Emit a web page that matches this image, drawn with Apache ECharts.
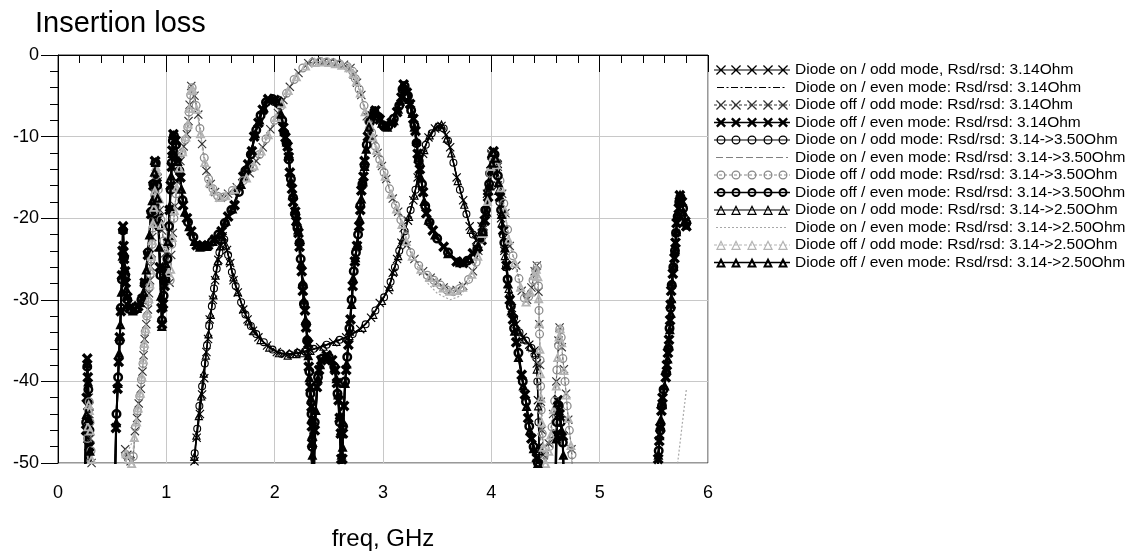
<!DOCTYPE html>
<html><head><meta charset="utf-8">
<script src="https://cdn.jsdelivr.net/npm/echarts@6/dist/echarts.min.js"></script>
<style>html,body{margin:0;padding:0;background:#fff}#c{width:1132px;height:556px}</style>
</head><body><div id="c"></div>
<script>
// ---------- DATA ----------
const xTicks = [0,1,2,3,4,5,6];
const yTicks = [0,-10,-20,-30,-40,-50];
const names = [
 'Diode on / odd mode, Rsd/rsd: 3.14Ohm',
 'Diode on / even mode: Rsd/rsd: 3.14Ohm',
 'Diode off / odd mode: Rsd/rsd: 3.14Ohm',
 'Diode off / even mode: Rsd/rsd: 3.14Ohm',
 'Diode on / odd mode: Rsd/rsd: 3.14->3.50Ohm',
 'Diode on / even mode: Rsd/rsd: 3.14->3.50Ohm',
 'Diode off / odd mode: Rsd/rsd: 3.14->3.50Ohm',
 'Diode off / even mode: Rsd/rsd: 3.14->3.50Ohm',
 'Diode on / odd mode: Rsd/rsd: 3.14->2.50Ohm',
 'Diode on / even mode: Rsd/rsd: 3.14->2.50Ohm',
 'Diode off / odd mode: Rsd/rsd: 3.14->2.50Ohm',
 'Diode off / even mode: Rsd/rsd: 3.14->2.50Ohm'
];

const onOdd314 = [
[0.25,-56],[0.27,-47],[0.28,-44],[0.29,-47],[0.3,-56],
[1.24,-56],[1.26,-49.8],[1.28,-46.9],[1.31,-44],[1.33,-41.6],[1.35,-39.6],[1.37,-36.4],[1.385,-34.8],[1.4,-32.4],[1.43,-30],[1.45,-27.6],[1.48,-25.1],[1.5,-23.4],[1.52,-22.2],[1.56,-23.9],[1.59,-25.5],[1.62,-27.6],[1.66,-29.1],[1.71,-31.2],[1.75,-32.4],[1.8,-33.8],[1.85,-34.6],[1.93,-35.6],[2.02,-36.4],[2.1,-36.6],[2.17,-36.6],[2.24,-36.4],[2.31,-36.2],[2.42,-35.8],[2.54,-35.2],[2.66,-34.6],[2.79,-33.6],[2.89,-32.2],[2.97,-30.4],[3.05,-28.8],[3.09,-26.7],[3.13,-25],[3.17,-23],[3.23,-20.3],[3.28,-17.8],[3.32,-15],[3.37,-12.1],[3.42,-10.1],[3.48,-9],[3.54,-8.7],[3.58,-9.8],[3.62,-11.3],[3.68,-15],[3.74,-17.8],[3.8,-21],[3.86,-22.7],[3.91,-21],[3.96,-17],[4.0,-12.1],[4.03,-12.8],[4.06,-16],[4.09,-20],[4.12,-24],[4.15,-28],[4.19,-31],[4.23,-33],[4.29,-34.6],[4.35,-35.5],[4.4,-36.2],[4.42,-37.8],[4.43,-42.3],[4.44,-48],[4.45,-56]
];
const onOdd350 = [
[1.24,-56],[1.262,-48.8],[1.285,-45.8],[1.305,-43],[1.33,-40.6],[1.355,-37.8],[1.375,-35.6],[1.395,-33.2],[1.42,-30.8],[1.44,-28.6],[1.465,-26.2],[1.49,-24.2],[1.51,-22.7],[1.535,-22.6],[1.57,-24.5],[1.605,-26.6],[1.64,-28.3],[1.69,-30.3],[1.73,-31.8],[1.78,-33.2],[1.83,-34.2],[1.9,-35.2],[1.98,-36.1],[2.06,-36.6],[2.14,-36.7],[2.21,-36.5],[2.28,-36.3],[2.36,-36],[2.48,-35.5],[2.6,-34.9],[2.72,-34.2],[2.84,-33],[2.93,-31.3],[3.01,-29.7],[3.07,-27.8],[3.11,-26],[3.15,-24],[3.2,-21.6],[3.255,-19],[3.3,-16.5],[3.345,-13.6],[3.395,-11],[3.45,-9.6],[3.51,-8.8],[3.56,-9],[3.6,-10.5],[3.65,-13.2],[3.71,-16.5],[3.77,-19.5],[3.83,-22],[3.885,-22.2],[3.935,-19],[3.98,-14.5],[4.005,-12.2],[4.045,-14],[4.075,-18],[4.105,-22],[4.135,-26],[4.17,-29.6],[4.21,-32.2],[4.26,-34],[4.32,-35],[4.37,-35.9],[4.41,-36.8],[4.425,-40],[4.435,-45],[4.445,-50],[4.455,-56]
];
const onOdd250 = [
[1.24,-56],[1.258,-49.2],[1.278,-46.6],[1.3,-44.2],[1.322,-41.8],[1.345,-39],[1.365,-36.8],[1.39,-34.2],[1.41,-31.8],[1.435,-29.4],[1.455,-27],[1.475,-25.2],[1.5,-23.4],[1.52,-22.3],[1.55,-23.3],[1.585,-25.2],[1.62,-27.2],[1.66,-29],[1.71,-31.1],[1.76,-32.6],[1.81,-33.8],[1.87,-34.9],[1.95,-35.8],[2.04,-36.5],[2.12,-36.8],[2.2,-36.6],[2.26,-36.5],[2.33,-36.2],[2.45,-35.7],[2.57,-35.1],[2.69,-34.4],[2.81,-33.4],[2.91,-31.8],[2.99,-30.1],[3.06,-28.4],[3.1,-26.5],[3.14,-24.6],[3.18,-22.6],[3.24,-19.8],[3.29,-17.2],[3.33,-14.5],[3.38,-11.6],[3.43,-9.8],[3.49,-8.8],[3.54,-8.5],[3.59,-10.2],[3.63,-12],[3.69,-15.4],[3.75,-18.3],[3.81,-21.4],[3.865,-22.9],[3.92,-20.5],[3.965,-16.2],[4.0,-12],[4.035,-13.2],[4.065,-16.6],[4.095,-20.6],[4.125,-24.6],[4.16,-28.6],[4.2,-31.6],[4.245,-33.6],[4.3,-34.8],[4.36,-35.7],[4.405,-36.5],[4.42,-38.5],[4.432,-43],[4.442,-48.5],[4.45,-56]
];

const offEven314 = [
[0.24,-56],[0.26,-46],[0.265,-42],[0.27,-37.2],[0.275,-39.5],[0.28,-43],[0.285,-45.5],[0.29,-48],[0.3,-56],
[0.52,-56],[0.535,-45.7],[0.55,-40.9],[0.56,-37.6],[0.57,-34.6],[0.58,-31.4],[0.59,-27],[0.595,-24],[0.6,-21],[0.605,-23.4],[0.61,-25],[0.62,-26.5],[0.625,-27.9],[0.64,-29.7],[0.66,-31],[0.7,-31.2],[0.74,-30.8],[0.78,-29.9],[0.8,-27.9],[0.83,-24.5],[0.86,-19.5],[0.88,-16],[0.895,-13],[0.91,-15],[0.925,-20],[0.94,-26],[0.955,-31],[0.96,-33],[0.97,-30.5],[0.985,-28.3],[1.0,-26.5],[1.02,-23],[1.03,-19],[1.04,-16],[1.05,-13.7],[1.055,-11.7],[1.065,-9.7],[1.085,-10.5],[1.1,-12.5],[1.13,-15],[1.155,-18.4],[1.19,-20],[1.23,-21.6],[1.28,-23.3],[1.33,-23.4],[1.385,-23.3],[1.45,-22.6],[1.51,-21.6],[1.57,-19.8],[1.63,-18.4],[1.71,-14.9],[1.755,-13.4],[1.79,-11.8],[1.81,-10],[1.85,-8.3],[1.89,-6.7],[1.94,-5.4],[2.0,-5.5],[2.03,-5.7],[2.08,-8.9],[2.1,-10.1],[2.12,-11.2],[2.13,-12.5],[2.14,-14.4],[2.16,-16.4],[2.17,-18],[2.19,-19.2],[2.2,-20.4],[2.22,-21.8],[2.23,-23.5],[2.25,-26.5],[2.26,-28.9],[2.28,-31.3],[2.29,-33.4],[2.31,-35.4],[2.315,-38.2],[2.33,-40.7],[2.34,-43.1],[2.343,-45.5],[2.346,-47.6],[2.35,-56],[2.37,-46],[2.39,-40.7],[2.41,-38.6],[2.43,-37.4],[2.48,-36.8],[2.53,-37.4],[2.56,-38.6],[2.575,-40.2],[2.59,-42.3],[2.6,-44.5],[2.61,-46.4],[2.615,-49.5],[2.62,-56],[2.625,-49.5],[2.63,-46.4],[2.64,-43],[2.66,-38.6],[2.68,-35.5],[2.7,-32.4],[2.72,-28.3],[2.74,-25.3],[2.76,-23.4],[2.78,-21],[2.79,-19],[2.8,-16.6],[2.82,-14.9],[2.83,-13],[2.86,-10],[2.89,-7.5],[2.93,-6.8],[2.97,-7.9],[3.02,-8.7],[3.08,-8.3],[3.13,-7],[3.17,-5.2],[3.19,-3.6],[3.22,-4.6],[3.25,-6],[3.28,-7.8],[3.3,-9.3],[3.32,-12.1],[3.34,-14],[3.37,-16.8],[3.4,-19.4],[3.46,-21.5],[3.56,-23.5],[3.68,-25.3],[3.74,-25.5],[3.83,-24.3],[3.91,-22.7],[3.94,-20.3],[3.97,-17.4],[4.0,-14.2],[4.02,-11.8],[4.05,-13.4],[4.08,-17.4],[4.11,-21.5],[4.14,-25.8],[4.17,-30],[4.2,-32.4],[4.23,-35.2],[4.28,-39.2],[4.31,-41.6],[4.34,-44.5],[4.37,-47],[4.42,-49.4],[4.44,-56],
[4.58,-56],[4.6,-46.5],[4.615,-42.3],[4.63,-44],[4.66,-46.7],[4.67,-56],
[5.52,-56],[5.54,-49.5],[5.55,-47.3],[5.56,-45.7],[5.57,-43.6],[5.58,-42],[5.61,-39.5],[5.62,-38],[5.63,-36.5],[5.64,-34.9],[5.65,-32.5],[5.655,-30.6],[5.66,-28.9],[5.675,-26.8],[5.69,-24.9],[5.7,-23],[5.71,-20.6],[5.73,-18.8],[5.74,-17.2],[5.76,-18],[5.79,-20.4],[5.8,-21]
];
const offEven350 = [
[0.24,-56],[0.26,-45],[0.27,-38.2],[0.28,-41],[0.29,-46],[0.3,-56],
[0.52,-56],[0.54,-44],[0.555,-39.5],[0.57,-35],[0.58,-31],[0.59,-27.5],[0.6,-21.5],[0.61,-24.8],[0.62,-27],[0.64,-30],[0.67,-31.2],[0.72,-31],[0.77,-30],[0.8,-28],[0.83,-24.2],[0.86,-19.2],[0.88,-15.8],[0.9,-13.2],[0.915,-16],[0.93,-21],[0.945,-27],[0.96,-32.5],[0.975,-29.5],[0.99,-27.5],[1.01,-25],[1.025,-21],[1.04,-16.5],[1.05,-13.2],[1.06,-10.5],[1.07,-9.9],[1.09,-11],[1.12,-14.2],[1.15,-17.8],[1.2,-20.5],[1.25,-22.3],[1.3,-23.4],[1.36,-23.4],[1.42,-22.9],[1.48,-22],[1.54,-20.6],[1.6,-19],[1.67,-16.8],[1.73,-14.2],[1.78,-12.2],[1.83,-9.2],[1.87,-7.4],[1.92,-5.8],[1.98,-5.4],[2.04,-6],[2.07,-8],[2.09,-9.6],[2.11,-10.8],[2.13,-12.8],[2.15,-15.2],[2.17,-17.5],[2.19,-19.5],[2.21,-21.2],[2.23,-23],[2.24,-25],[2.26,-28.3],[2.27,-30.5],[2.29,-33],[2.3,-35],[2.32,-38.8],[2.33,-41.5],[2.34,-44],[2.345,-48],[2.35,-56],[2.37,-45],[2.4,-39.5],[2.44,-37.2],[2.5,-37],[2.55,-38.2],[2.58,-41.5],[2.6,-45],[2.615,-56],[2.63,-45.5],[2.65,-40],[2.67,-37],[2.69,-33.5],[2.71,-30],[2.73,-26.5],[2.75,-24.2],[2.77,-22],[2.79,-18.5],[2.81,-15.8],[2.83,-13.5],[2.85,-11],[2.88,-8.2],[2.92,-6.9],[2.96,-7.6],[3.0,-8.6],[3.05,-8.7],[3.1,-7.8],[3.15,-6.2],[3.18,-4.2],[3.2,-3.8],[3.23,-5],[3.26,-6.8],[3.29,-8.6],[3.31,-10.8],[3.33,-13],[3.36,-15.8],[3.39,-18.5],[3.43,-20.5],[3.5,-22.5],[3.6,-24.2],[3.7,-25.4],[3.78,-25.2],[3.87,-23.8],[3.92,-21.8],[3.95,-19],[3.98,-15.8],[4.01,-12.6],[4.03,-12.2],[4.06,-14.8],[4.09,-19],[4.12,-23],[4.15,-27.5],[4.18,-30.8],[4.21,-33.5],[4.25,-36.5],[4.29,-40],[4.32,-42.5],[4.35,-45.5],[4.39,-48],[4.43,-50],[4.45,-56],
[4.59,-56],[4.605,-45],[4.62,-43],[4.64,-45],[4.66,-47.5],[4.67,-56],
[5.52,-56],[5.545,-48.5],[5.56,-46],[5.575,-43],[5.59,-41],[5.615,-39],[5.635,-36],[5.645,-33.5],[5.655,-31],[5.665,-28.2],[5.68,-26],[5.695,-24],[5.705,-21.8],[5.72,-19.8],[5.735,-18],[5.745,-17.4],[5.77,-18.8],[5.8,-20.6]
];
const offEven250 = [
[0.24,-56],[0.262,-44],[0.27,-37.8],[0.278,-40],[0.285,-44.5],[0.295,-48.5],[0.31,-56],
[0.52,-56],[0.538,-45],[0.552,-40.2],[0.565,-36.5],[0.576,-33],[0.586,-29],[0.595,-24.6],[0.6,-21.3],[0.607,-24],[0.615,-26],[0.63,-28.6],[0.65,-30.5],[0.69,-31.3],[0.73,-31],[0.76,-30.3],[0.79,-29],[0.815,-26.3],[0.845,-22],[0.87,-17.8],[0.89,-14.3],[0.9,-13.1],[0.92,-17.5],[0.935,-23.5],[0.95,-29.5],[0.958,-33.2],[0.968,-30.8],[0.98,-27.2],[0.995,-25.5],[1.015,-22.8],[1.03,-18.5],[1.045,-14.8],[1.055,-12],[1.065,-9.8],[1.08,-10.2],[1.105,-13],[1.14,-16.4],[1.17,-19.2],[1.21,-21],[1.26,-22.8],[1.31,-23.5],[1.37,-23.4],[1.43,-22.8],[1.49,-21.9],[1.55,-20.3],[1.61,-18.8],[1.69,-15.8],[1.74,-13.8],[1.79,-11.6],[1.82,-9.6],[1.86,-7.9],[1.9,-6.4],[1.96,-5.3],[2.02,-5.6],[2.06,-7.2],[2.09,-9.3],[2.11,-10.6],[2.13,-12],[2.15,-15.4],[2.165,-17.2],[2.185,-18.8],[2.2,-20.2],[2.215,-21.4],[2.23,-22.8],[2.245,-25.5],[2.26,-27.8],[2.27,-30],[2.285,-32.4],[2.3,-34.6],[2.31,-36.8],[2.32,-39.5],[2.335,-42],[2.34,-44.5],[2.345,-46.5],[2.348,-49],[2.355,-56],[2.38,-43.5],[2.4,-39.6],[2.42,-37.9],[2.46,-36.9],[2.51,-37.2],[2.55,-38.3],[2.57,-39.6],[2.585,-41.6],[2.6,-44],[2.61,-46],[2.617,-49],[2.62,-56],[2.627,-48],[2.635,-45],[2.65,-40.2],[2.665,-37.8],[2.69,-33.8],[2.71,-30.5],[2.725,-27.3],[2.745,-24.8],[2.765,-23],[2.785,-20],[2.8,-17.6],[2.815,-15.5],[2.83,-13.6],[2.845,-11.5],[2.87,-8.8],[2.905,-7.1],[2.95,-7.1],[2.99,-8.3],[3.04,-8.8],[3.1,-8],[3.14,-6.6],[3.16,-5.6],[3.185,-3.9],[3.21,-4.1],[3.24,-5.4],[3.27,-7.1],[3.29,-8.8],[3.31,-10.5],[3.325,-12.6],[3.35,-15],[3.38,-17.9],[3.42,-20.2],[3.48,-22],[3.6,-24.3],[3.71,-25.4],[3.8,-24.9],[3.88,-23.4],[3.925,-21.6],[3.955,-19.2],[3.985,-16],[4.005,-13.2],[4.02,-11.9],[4.04,-12.6],[4.065,-15.6],[4.095,-19.5],[4.125,-23.6],[4.155,-28],[4.185,-31.3],[4.215,-33.8],[4.25,-37],[4.295,-40.5],[4.325,-43],[4.355,-46],[4.39,-48.2],[4.43,-50],[4.45,-56],
[4.59,-56],[4.6,-47],[4.612,-42.6],[4.625,-43.5],[4.65,-46],[4.665,-49],[4.675,-56],
[5.52,-56],[5.542,-49],[5.553,-46.6],[5.565,-44.6],[5.578,-42.8],[5.6,-40.5],[5.618,-38.6],[5.628,-37.2],[5.64,-35.6],[5.648,-33.6],[5.657,-31.6],[5.663,-29.8],[5.67,-27.8],[5.683,-25.8],[5.697,-23.8],[5.707,-21.6],[5.72,-19.5],[5.735,-17.8],[5.742,-17.1],[5.755,-17.7],[5.775,-19.2],[5.8,-20.8]
];

const offOdd314 = [
[0.26,-56],[0.275,-46],[0.28,-43],[0.285,-42],[0.29,-44],[0.3,-47],[0.31,-50],[0.32,-56],
[0.6,-56],[0.62,-48.3],[0.64,-49],[0.67,-49.8],[0.69,-50.5],[0.71,-46.1],[0.73,-44.5],[0.745,-42.7],[0.765,-40.9],[0.78,-38.8],[0.79,-36.8],[0.8,-34.8],[0.815,-33],[0.83,-31.2],[0.84,-29.2],[0.85,-27.6],[0.855,-25.9],[0.865,-24.3],[0.87,-22.3],[0.88,-20.2],[0.89,-18.2],[0.895,-16.2],[0.905,-13.1],[0.92,-15.5],[0.94,-19],[0.96,-21.5],[0.99,-24.3],[1.03,-27.9],[1.045,-24.5],[1.06,-21.8],[1.08,-18.5],[1.1,-15.5],[1.13,-13],[1.16,-11.2],[1.19,-9.7],[1.205,-8.1],[1.215,-6.1],[1.23,-3.8],[1.26,-5],[1.295,-7.3],[1.33,-10.9],[1.37,-14.2],[1.41,-15.8],[1.45,-16.8],[1.5,-17.5],[1.57,-17],[1.65,-16.2],[1.77,-14.5],[1.83,-13],[1.89,-11.3],[1.96,-9.1],[2.03,-7.1],[2.08,-5.5],[2.14,-3.9],[2.22,-2.2],[2.31,-1.0],[2.38,-0.8],[2.45,-0.85],[2.51,-0.9],[2.57,-1.0],[2.64,-1.2],[2.7,-1.6],[2.73,-2.4],[2.76,-3.4],[2.8,-4.9],[2.85,-7.5],[2.88,-8.7],[2.91,-10.3],[2.95,-12],[2.99,-13.6],[3.03,-15.2],[3.09,-17.6],[3.14,-19.2],[3.19,-21.2],[3.22,-23.3],[3.29,-25],[3.37,-26.5],[3.44,-27.3],[3.5,-27.9],[3.56,-28.5],[3.62,-28.9],[3.68,-28.8],[3.74,-28.3],[3.83,-26.5],[3.88,-24],[3.93,-21],[3.98,-16.7],[4.0,-12.3],[4.03,-12.6],[4.06,-13.7],[4.1,-17],[4.13,-19.4],[4.17,-23.4],[4.23,-25.8],[4.28,-28.9],[4.33,-30],[4.37,-28.5],[4.4,-26.5],[4.42,-25.8],[4.435,-29],[4.443,-33],[4.45,-38],[4.457,-42.5],[4.465,-46],[4.48,-49],[4.5,-50.5],[4.53,-47.6],[4.57,-44],[4.6,-40],[4.62,-35],[4.63,-33.4],[4.65,-35.8],[4.67,-38.5],[4.69,-41.5],[4.71,-44.7],[4.74,-48.3],[4.76,-56]
];
const offOdd350 = [
[0.26,-56],[0.272,-47],[0.28,-43.5],[0.288,-42.5],[0.295,-45],[0.305,-48.5],[0.32,-56],
[0.6,-56],[0.625,-49],[0.66,-49.6],[0.695,-49.2],[0.715,-45.6],[0.735,-43.6],[0.755,-41.8],[0.77,-39.8],[0.785,-37.8],[0.795,-35.8],[0.805,-33.9],[0.82,-32],[0.835,-30.2],[0.845,-28.4],[0.852,-26.8],[0.86,-25],[0.868,-23.2],[0.875,-21.2],[0.885,-19.2],[0.892,-17.2],[0.9,-14.8],[0.91,-13.3],[0.925,-16.5],[0.95,-20.2],[0.975,-22.8],[1.01,-25.6],[1.035,-27.6],[1.05,-23.2],[1.07,-20],[1.09,-17],[1.115,-14.2],[1.145,-12],[1.175,-10.4],[1.198,-8.8],[1.21,-7],[1.225,-4.9],[1.238,-4],[1.275,-6.2],[1.31,-9],[1.35,-12.6],[1.39,-15.2],[1.43,-16.4],[1.475,-17.3],[1.53,-17.4],[1.61,-16.6],[1.71,-15.4],[1.8,-13.8],[1.86,-12.2],[1.92,-10.3],[2.0,-8],[2.055,-6.3],[2.11,-4.7],[2.18,-3],[2.26,-1.6],[2.35,-0.9],[2.42,-0.8],[2.48,-0.85],[2.54,-0.95],[2.6,-1.1],[2.67,-1.4],[2.72,-2],[2.745,-2.9],[2.78,-4.2],[2.825,-6.2],[2.865,-8.1],[2.895,-9.5],[2.93,-11.2],[2.97,-12.8],[3.01,-14.4],[3.06,-16.4],[3.115,-18.4],[3.165,-20.2],[3.205,-22.2],[3.255,-24.2],[3.33,-25.8],[3.41,-27],[3.47,-27.6],[3.53,-28.2],[3.59,-28.8],[3.65,-29],[3.71,-28.6],[3.79,-27.5],[3.86,-25.4],[3.905,-22.6],[3.955,-18.9],[3.99,-14.5],[4.01,-12.2],[4.045,-13.1],[4.08,-15.4],[4.115,-18.2],[4.15,-21.4],[4.2,-24.6],[4.255,-27.4],[4.305,-29.8],[4.345,-29.6],[4.385,-27.6],[4.41,-26.4],[4.425,-25.9],[4.435,-28.3],[4.44,-31.3],[4.445,-34.2],[4.45,-37.4],[4.455,-40.6],[4.46,-43.5],[4.47,-46.4],[4.49,-49],[4.51,-50.5],[4.535,-48],[4.56,-45.6],[4.585,-42.4],[4.605,-38.6],[4.62,-35.6],[4.632,-33.6],[4.645,-34.6],[4.66,-37.2],[4.68,-40],[4.7,-43],[4.72,-46],[4.745,-49],[4.76,-56]
];
const offOdd250 = [
[0.26,-56],[0.276,-45.5],[0.283,-42.8],[0.29,-43.5],[0.298,-46],[0.31,-49.5],[0.32,-56],
[0.6,-56],[0.628,-48.8],[0.65,-49.5],[0.68,-50],[0.705,-46.8],[0.725,-44.9],[0.74,-43.2],[0.76,-41.4],[0.775,-39.4],[0.788,-37.3],[0.798,-35.3],[0.81,-33.5],[0.825,-31.6],[0.838,-29.8],[0.848,-28],[0.855,-26.3],[0.862,-24.6],[0.87,-22.7],[0.878,-20.6],[0.887,-18.6],[0.894,-16.6],[0.903,-13.6],[0.915,-14.2],[0.935,-17.6],[0.955,-20.8],[0.985,-23.6],[1.02,-26.6],[1.04,-26.2],[1.055,-22.3],[1.075,-19],[1.095,-16.2],[1.12,-13.8],[1.15,-11.8],[1.18,-10],[1.2,-8.4],[1.212,-6.5],[1.228,-4.3],[1.245,-4.2],[1.28,-6.6],[1.315,-9.6],[1.355,-13.1],[1.4,-15.6],[1.44,-16.6],[1.49,-17.4],[1.55,-17.2],[1.63,-16.4],[1.74,-15],[1.81,-13.5],[1.875,-11.7],[1.94,-9.7],[2.015,-7.6],[2.065,-5.9],[2.125,-4.3],[2.2,-2.6],[2.285,-1.3],[2.37,-0.85],[2.44,-0.8],[2.5,-0.85],[2.56,-1],[2.62,-1.2],[2.685,-1.5],[2.725,-2.2],[2.755,-3.2],[2.79,-4.6],[2.835,-6.9],[2.875,-8.4],[2.905,-10],[2.94,-11.6],[2.98,-13.2],[3.02,-14.8],[3.075,-17],[3.125,-18.8],[3.175,-20.7],[3.215,-22.8],[3.27,-24.6],[3.35,-26.2],[3.43,-27.2],[3.49,-27.8],[3.555,-28.5],[3.615,-28.9],[3.675,-28.8],[3.735,-28.4],[3.82,-26.8],[3.875,-24.6],[3.92,-21.8],[3.965,-17.9],[3.995,-13.6],[4.015,-12.4],[4.05,-13.4],[4.09,-16.2],[4.125,-19],[4.16,-22.6],[4.215,-25.4],[4.27,-28.4],[4.32,-30.2],[4.36,-29],[4.395,-27],[4.415,-26.2],[4.43,-27.1],[4.437,-29.8],[4.442,-32.8],[4.448,-36],[4.453,-39],[4.458,-42],[4.465,-45],[4.48,-48],[4.5,-50],[4.53,-48.5],[4.55,-46.5],[4.575,-43.4],[4.6,-40.5],[4.613,-37],[4.625,-34.5],[4.635,-33.5],[4.65,-35.2],[4.67,-38.6],[4.69,-41.6],[4.71,-44.5],[4.735,-47.8],[4.76,-56]
];

const onEven314 = [
[0.52,-56],[0.535,-46],[0.56,-38],[0.58,-31.5],[0.595,-24.5],[0.6,-21.2],[0.61,-24.5],[0.625,-28],[0.65,-30.8],[0.68,-31.4],[0.71,-31.1],[0.74,-30.6],[0.78,-29.8],[0.82,-26],[0.86,-19.8],[0.895,-13.2],[0.93,-21],[0.96,-33.5],[0.99,-27.5],[1.03,-20],[1.065,-9.8],[1.1,-12.6],[1.155,-18.5],[1.23,-21.8],[1.3,-23.4],[1.385,-23.4],[1.51,-21.6],[1.63,-18.3],[1.75,-13.3],[1.85,-8],[1.94,-5.1],[2.03,-5.9],[2.1,-10.3],[2.2,-20.5],[2.26,-29],[2.31,-36],[2.345,-56],[2.39,-40.5],[2.43,-37.2],[2.5,-36.9],[2.56,-38.6],[2.6,-44.6],[2.62,-56],[2.64,-43],[2.7,-32.4],[2.76,-23.4],[2.82,-14.8],[2.87,-8.8],[2.93,-6.3],[2.97,-7.5],[3.02,-8.6],[3.1,-7.8],[3.19,-3.5],[3.25,-6],[3.32,-12.1],[3.4,-19.4],[3.5,-22.5],[3.62,-24.5],[3.74,-25.4],[3.85,-24],[3.94,-20.2],[4.02,-11.7],[4.08,-17.5],[4.14,-25.8],[4.2,-32.5],[4.28,-39.3],[4.37,-47],[4.43,-56]
];
const onEven350 = [
[0.52,-56],[0.54,-44.5],[0.57,-35],[0.59,-28],[0.6,-21.3],[0.615,-25.5],[0.64,-29.8],[0.67,-31.3],[0.72,-31.2],[0.77,-30.2],[0.81,-27],[0.85,-21.5],[0.9,-13.3],[0.93,-20.5],[0.96,-33],[1.0,-26.5],[1.04,-16.2],[1.065,-9.9],[1.1,-12.8],[1.16,-18.5],[1.25,-22.4],[1.33,-23.5],[1.42,-23],[1.51,-21.7],[1.63,-18.5],[1.73,-14.2],[1.81,-10.1],[1.89,-6.8],[1.96,-5.3],[2.03,-5.8],[2.08,-8.8],[2.14,-14.3],[2.2,-20.3],[2.26,-28.8],[2.31,-35.5],[2.345,-56],[2.39,-40.5],[2.44,-37.2],[2.5,-37],[2.56,-38.7],[2.6,-44.5],[2.62,-56],[2.64,-43],[2.7,-32.5],[2.76,-23.5],[2.82,-15],[2.86,-10.1],[2.9,-7.2],[2.95,-7.2],[3.02,-8.8],[3.1,-7.8],[3.17,-5.3],[3.19,-3.7],[3.25,-6.1],[3.32,-12.2],[3.4,-19.5],[3.5,-22.5],[3.62,-24.5],[3.74,-25.6],[3.85,-24.2],[3.94,-20.4],[4.02,-11.9],[4.08,-17.5],[4.14,-25.5],[4.2,-31.2],[4.25,-33.6],[4.3,-35.2],[4.35,-36.5],[4.4,-37.7],[4.43,-40],[4.45,-45],[4.47,-56]
];
const onEven250 = [
[0.6,-56],[0.63,-49],[0.7,-47],[0.76,-41.5],[0.8,-35],[0.84,-29.5],[0.87,-23],[0.89,-18],[0.905,-13.4],[0.93,-16.5],[0.97,-22],[1.02,-28.4],[1.05,-23.5],[1.1,-15.8],[1.16,-11.4],[1.2,-8.3],[1.23,-4],[1.27,-5.4],[1.32,-10.5],[1.37,-14.8],[1.42,-17.1],[1.48,-17.9],[1.55,-17.6],[1.65,-16.4],[1.77,-14.6],[1.89,-11.4],[2.03,-7.2],[2.14,-4],[2.22,-2.3],[2.31,-1.1],[2.45,-0.9],[2.57,-1.1],[2.7,-1.7],[2.76,-3.5],[2.85,-7.6],[2.91,-10.5],[2.99,-13.8],[3.09,-17.8],[3.19,-21.4],[3.29,-25.3],[3.4,-27.8],[3.5,-29.2],[3.62,-30],[3.72,-29.5],[3.83,-26.9],[3.9,-23.5],[3.95,-19.5],[3.99,-14.5],[4.01,-12.5],[4.06,-14],[4.13,-19.8],[4.2,-24.8],[4.28,-29.2],[4.33,-30.5],[4.37,-29],[4.42,-26.3],[4.44,-31],[4.46,-40],[4.48,-48],[4.5,-56],
[5.7,-56],[5.72,-50],[5.76,-45.5],[5.8,-41]
];

// ---------- STYLE ----------
const F = "'Liberation Sans', Arial, sans-serif";
const SYM = {
  xThin: 'path://M0,0.9L0.9,0L5,4.1L9.1,0L10,0.9L5.9,5L10,9.1L9.1,10L5,5.9L0.9,10L0,9.1L4.1,5Z',
  xBold: 'path://M0,2.2L2.2,0L5,2.8L7.8,0L10,2.2L7.2,5L10,7.8L7.8,10L5,7.2L2.2,10L0,7.8L2.8,5Z',
  ringThin: 'path://M0,5A5,5,0,1,1,10,5A5,5,0,1,1,0,5ZM1.4,5A3.6,3.6,0,1,0,8.6,5A3.6,3.6,0,1,0,1.4,5Z',
  ringBold: 'path://M0,5A5,5,0,1,1,10,5A5,5,0,1,1,0,5ZM2.5,5A2.5,2.5,0,1,0,7.5,5A2.5,2.5,0,1,0,2.5,5Z',
  triThin: 'path://M5,0L10,10L0,10ZM5,2.9L2.1,8.7L7.9,8.7Z',
  triMid: 'path://M5,0L10,10L0,10ZM5,4L3.06,8.2L6.94,8.2Z',
  triBold: 'path://M5,0L10,10L0,10ZM5,5.3L3.9,7.6L6.1,7.6Z'
};
// legend icons (76 x 10 box)
const CXS = [7,22,38,54,69];
const ANCH = 'M0,0L0.02,0L0.02,0.02ZM76,10L75.98,10L75.98,9.98Z';
function rp(x,y,w,h){return `M${x},${y}H${x+w}V${y+h}H${x}Z`;}
function xp(cx,cy,h,d){return `M${cx-h},${cy-h+d}L${cx-h+d},${cy-h}L${cx},${cy-d}L${cx+h-d},${cy-h}L${cx+h},${cy-h+d}L${cx+d},${cy}L${cx+h},${cy+h-d}L${cx+h-d},${cy+h}L${cx},${cy+d}L${cx-h+d},${cy+h}L${cx-h},${cy+h-d}L${cx-d},${cy}Z`;}
function ringp(cx,cy,r,ri){return `M${cx-r},${cy}A${r},${r},0,1,1,${cx+r},${cy}A${r},${r},0,1,1,${cx-r},${cy}ZM${cx-ri},${cy}A${ri},${ri},0,1,0,${cx+ri},${cy}A${ri},${ri},0,1,0,${cx-ri},${cy}Z`;}
function trip(cx,cy,h,w){const t=cy-h,b=cy+h,l=cx-h,r=cx+h;return `M${cx},${t}L${r},${b}L${l},${b}ZM${cx},${t+2.236*w}L${l+1.618*w},${b-w}L${r-1.618*w},${b-w}Z`;}
function dashp(x0,x1,pat,y,th){let s='',x=x0,i=0;while(x<x1){const len=pat[i%pat.length];if(i%2===0)s+=rp(x,y-th/2,Math.min(len,x1-x),th);x+=len;i++;}return s;}
const solid = rp(0,4.4,76,1.2), solidB = rp(0,4.2,76,1.6), dashed = dashp(0,76,[3,2],5,1);
const icons = [
  ANCH+solid+CXS.map(c=>xp(c,5,5,0.9)).join(''),
  ANCH+dashp(3,73,[7,2.5,2,2.5],5,1.2),
  ANCH+dashed+CXS.map(c=>xp(c,5,5,0.9)).join(''),
  ANCH+solidB+CXS.map(c=>xp(c,5,5,1.7)).join(''),
  ANCH+solid+CXS.map(c=>ringp(c,5,4.5,3.2)).join(''),
  ANCH+dashp(2,74,[7,3],5,1.2),
  ANCH+dashed+CXS.map(c=>ringp(c,5,4.5,3.2)).join(''),
  ANCH+solidB+CXS.map(c=>ringp(c,5,4.5,2.5)).join(''),
  ANCH+solid+CXS.map(c=>trip(c,5,5,1.2)).join(''),
  ANCH+dashp(2,74,[2,2],5,1.2),
  ANCH+dashed+CXS.map(c=>trip(c,5,5,1.2)).join(''),
  ANCH+solidB+CXS.map(c=>trip(c,5,5,2)).join('')
];

function S(i, data, color, sym, size, lineType, lineWidth){
  return {name:names[i], type:'line', data:data, symbol: sym ? SYM[sym] : 'none', symbolSize:size||0,
    showSymbol: !!sym, showAllSymbol:true, clip:true, color:color,
    itemStyle:{color:color, borderWidth:0}, lineStyle:{color:color, width:lineWidth, type:lineType},
    emphasis:{disabled:true}, silent:true, animation:false};
}
const series = [
  S(0, onOdd314, '#000', 'xThin', 9, 'solid', 1.3),
  S(1, onEven314, '#000', null, 0, [6,2.5,2,2.5], 1.2),
  S(2, offOdd314, '#333', 'xThin', 9, [3,2], 1),
  S(3, offEven314, '#000', 'xBold', 11, 'solid', 2),
  S(4, onOdd350, '#000', 'ringThin', 8, 'solid', 1.3),
  S(5, onEven350, '#808080', null, 0, [6,3], 1.2),
  S(6, offOdd350, '#8a8a8a', 'ringThin', 9, [3,2], 1),
  S(7, offEven350, '#000', 'ringBold', 10, 'solid', 2),
  S(8, onOdd250, '#000', 'triThin', 9, 'solid', 1.3),
  S(9, onEven250, '#a8a8a8', null, 0, [2,2], 1.2),
  S(10, offOdd250, '#b4b4b4', 'triMid', 10, [3,2], 1),
  S(11, offEven250, '#000', 'triBold', 10, 'solid', 2)
];

const chart = echarts.init(document.getElementById('c'), null, {renderer:'canvas'});
chart.setOption({
  animation:false,
  backgroundColor:'#fff',
  title:{text:'Insertion loss', left:35, top:9, padding:0, textStyle:{fontFamily:F, fontSize:29, fontWeight:'normal', color:'#000'}},
  grid:{left:58, right:424, top:55, bottom:89, show:true, borderColor:'#333', borderWidth:1, backgroundColor:'transparent'},
  legend:{orient:'vertical', left:714, top:62, padding:0, itemWidth:76, itemHeight:10, itemGap:1.5, symbolKeepAspect:true,
    selectedMode:false, itemStyle:{borderWidth:0},
    textStyle:{fontFamily:F, fontSize:15.5, color:'#000'},
    data: names.map((n,i)=>({name:n, icon:'path://'+icons[i]}))},
  xAxis:{type:'value', min:xTicks[0], max:xTicks[xTicks.length-1], interval:1,
    axisLine:{lineStyle:{color:'#000', width:1}},
    axisTick:{show:true, length:17, lineStyle:{color:'#000'}},
    minorTick:{show:true, splitNumber:5, length:8, lineStyle:{color:'#000'}},
    splitLine:{show:true, lineStyle:{color:'#c8c8c8', width:1}},
    axisLabel:{fontFamily:F, fontSize:18, color:'#000', margin:21},
    name:'freq, GHz', nameLocation:'middle', nameGap:64,
    nameTextStyle:{fontFamily:F, fontSize:24, color:'#000'}},
  yAxis:{type:'value', min:yTicks[yTicks.length-1], max:yTicks[0], interval:10,
    axisLine:{show:true, lineStyle:{color:'#000', width:1}},
    axisTick:{show:true, length:17, lineStyle:{color:'#000'}},
    minorTick:{show:true, splitNumber:5, length:8, lineStyle:{color:'#000'}},
    splitLine:{show:true, lineStyle:{color:'#c8c8c8', width:1}},
    axisLabel:{fontFamily:F, fontSize:18, color:'#000', margin:19}},
  series: series
});
</script>
</body></html>
